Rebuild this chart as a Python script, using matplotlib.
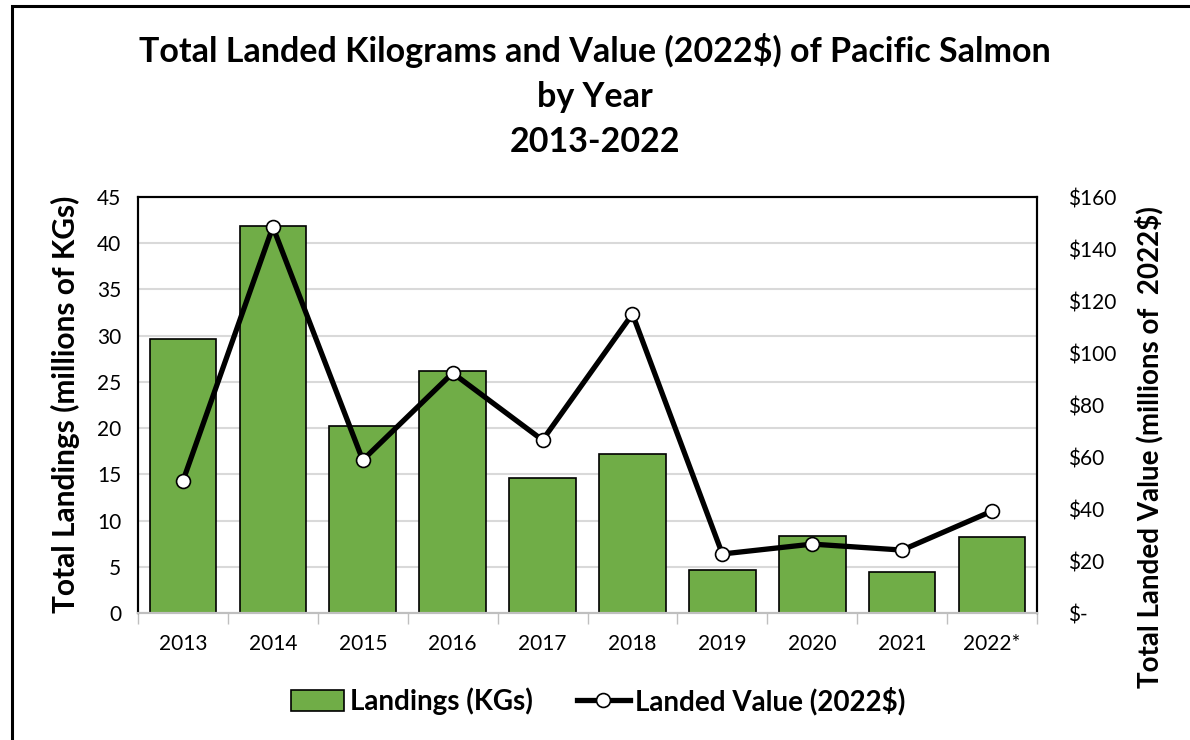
import matplotlib

matplotlib.use('Agg')
import matplotlib.pyplot as plt
from matplotlib.patches import Rectangle
from matplotlib.ticker import FuncFormatter

plt.rcParams['font.family'] = ['Lato', 'DejaVu Sans']

years = ['2013', '2014', '2015', '2016', '2017', '2018', '2019', '2020', '2021', '2022*']
landings_kg = [29.6, 41.9, 20.2, 26.2, 14.6, 17.2, 4.6, 8.3, 4.4, 8.2]
landed_value = [50.8, 148.5, 58.8, 92.3, 66.5, 115.0, 22.7, 26.5, 24.2, 39.2]

GREEN = '#70AD47'

fig = plt.figure(figsize=(11.9, 7.4), dpi=100)
ax = fig.add_axes([138 / 1190, 1 - 613 / 740, (1037 - 138) / 1190, (613 - 197) / 740])
ax2 = ax.twinx()

x = range(len(years))
bars = ax.bar(x, landings_kg, width=0.74, color=GREEN, edgecolor='black', linewidth=1.2,
              label='Landings (KGs)', zorder=2)
line, = ax2.plot(x, landed_value, color='black', linewidth=3.8, marker='o', markersize=10,
                 markerfacecolor='white', markeredgecolor='black', markeredgewidth=1.2,
                 label='Landed Value (2022$)', zorder=3)

ax.set_xlim(-0.5, len(years) - 0.5)
ax.set_ylim(0, 45)
ax.set_yticks(range(0, 46, 5))
ax2.set_ylim(0, 160)
ax2.set_yticks(range(0, 161, 20))
ax2.yaxis.set_major_formatter(FuncFormatter(lambda v, p: '$-' if v == 0 else f'${v:.0f}'))

ax.yaxis.grid(True, color='#D9D9D9', linewidth=1.5, zorder=0)
ax.set_axisbelow(True)

ax.set_xticks(list(x))
ax.set_xticklabels(years)
ax.set_xticks([i + 0.5 for i in range(-1, len(years))], minor=True)
ax.tick_params(axis='x', which='major', length=0, pad=15, labelsize=15)
ax.tick_params(axis='x', which='minor', length=8, color='#BFBFBF', width=1)
ax.tick_params(axis='y', length=0, labelsize=15, pad=12)
ax2.tick_params(axis='y', length=0, labelsize=15, pad=22)

for a in (ax, ax2):
    for side in ('top', 'left', 'right'):
        a.spines[side].set_color('black')
        a.spines[side].set_linewidth(1.5)
    a.spines['bottom'].set_color('#BFBFBF')
    a.spines['bottom'].set_linewidth(1.5)

ax.set_ylabel('Total Landings (millions of KGs)', fontsize=21.5, fontweight='bold')
ax.yaxis.set_label_coords((80 - 138) / 899, (613 - 404) / 416)
ax2.set_ylabel('Total Landed Value (millions of  2022$)', fontsize=20, fontweight='bold',
               rotation=90)
ax2.yaxis.set_label_coords((1135 - 138) / 899, (613 - 447) / 416)

fig.suptitle('Total Landed Kilograms and Value (2022$) of Pacific Salmon\nby Year\n2013-2022',
             y=0.955, fontsize=24.5, fontweight='bold', linespacing=1.5)

fig.legend(handles=[bars, line], loc='center', bbox_to_anchor=(0.503, 0.053), ncol=2,
           frameon=False, prop={'weight': 'bold', 'size': 20},
           handlelength=1.9, handleheight=0.8, columnspacing=1.6, handletextpad=0.2)

fig.patches.append(Rectangle((12 / 1190, -0.1), 1.2, 1.1 - 6 / 740,
                             transform=fig.transFigure, fill=False, edgecolor='black',
                             linewidth=2.2))

fig.savefig('out.png', dpi=100)
